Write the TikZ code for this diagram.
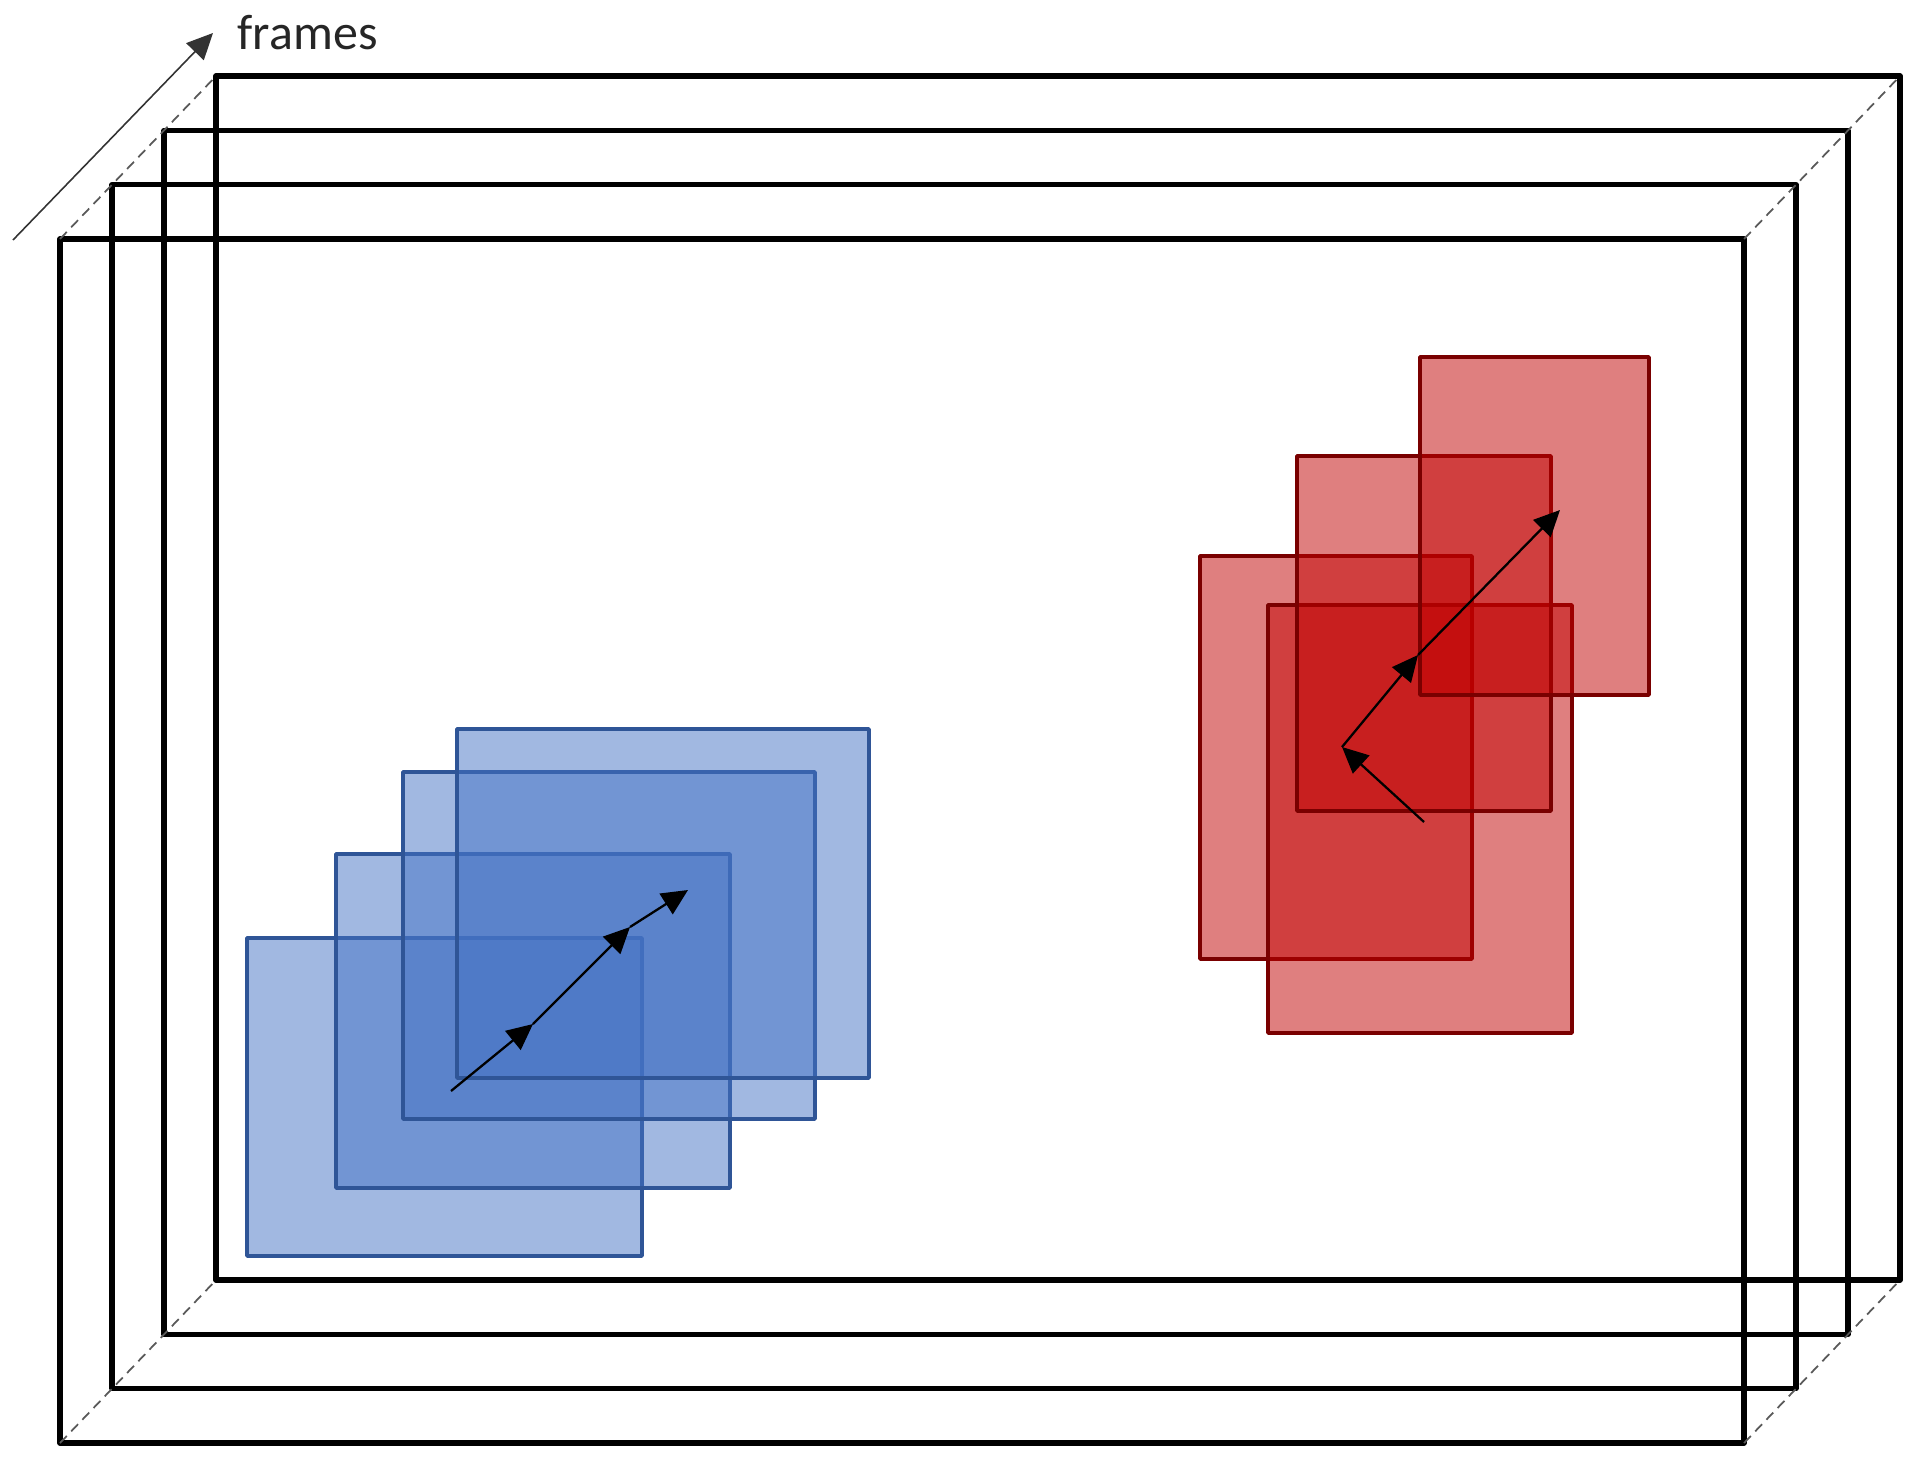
\documentclass[tikz,border=0pt]{standalone}
\usepackage{fontspec}
\setmainfont{Carlito}
\usetikzlibrary{arrows.meta}
\definecolor{patchblue}{HTML}{4472C4}
\definecolor{edgeblue}{HTML}{2F5597}
\definecolor{patchred}{HTML}{C00000}
\definecolor{edgered}{HTML}{7A0000}
\begin{document}
\begin{tikzpicture}[x=0.01cm,y=-0.01cm,>={Triangle[length=7.4pt,width=6.9pt]}, line join=round]
    \tikzset{framebox/.style={line width=1.5pt},
        depth/.style={dash pattern=on 2.8pt off 1.8pt, line width=0.5pt, black!65},
        bluebox/.style={draw=edgeblue, fill=patchblue, fill opacity=0.5, line width=1pt},
        redbox/.style={draw=edgered, fill=patchred, fill opacity=0.5, line width=1.05pt},
        track/.style={->, line width=0.65pt}}
    \useasboundingbox (0,0) rectangle (1928,1476);
    \def\fw{1684} \def\fh{1204} % frame size
    \def\dx{52} \def\dy{-54.3} % shift per frame
    % frames
    \foreach \i in {0,...,3}{
        \coordinate (tl\i) at ({60+\i*\dx},{239+\i*\dy});
        \coordinate (tr\i) at ({60+\fw+\i*\dx},{239+\i*\dy});
        \coordinate (bl\i) at ({60+\i*\dx},{239+\fh+\i*\dy});
        \coordinate (br\i) at ({60+\fw+\i*\dx},{239+\fh+\i*\dy});
        \draw[framebox] (tl\i) rectangle (br\i);
    }
    \foreach \c in {tl,tr,bl,br} \draw[depth] (\c0)--(\c3);
    % time axis
    \coordinate (ax0) at (13,240); \coordinate (ax1) at (213,33);
    \draw[->, line width=0.45pt, black!80] (ax0)--(ax1);
    \node (lbl) [anchor=base west, inner sep=0pt, text=black!85, font=\fontsize{14.2}{17}\selectfont] at (237,50) {frames};
    % blue object
    \foreach \xa/\ya/\xb/\yb in {247/938/642/1256, 336/854/730/1188, 403/772/815/1119, 457/729/869/1078}
        \draw[bluebox] (\xa,\ya) rectangle (\xb,\yb);
    \coordinate (b0) at (451,1091); \coordinate (b1) at (533,1024);
    \coordinate (b2) at (630,927); \coordinate (b3) at (688,890);
    \draw[track] (b0)--(b1); \draw[track] (b1)--(b2); \draw[track] (b2)--(b3);
    % red object
    \foreach \xa/\ya/\xb/\yb in {1200/556/1472/959, 1268/605/1572/1033, 1297/456/1551/811, 1420/357/1649/695}
        \draw[redbox] (\xa,\ya) rectangle (\xb,\yb);
    \coordinate (r0) at (1424,822); \coordinate (r1) at (1342,747);
    \coordinate (r2) at (1418,655); \coordinate (r3) at (1560,510);
    \draw[track] (r0)--(r1); \draw[track] (r1)--(r2); \draw[track] (r2)--(r3);
\end{tikzpicture}
\end{document}
